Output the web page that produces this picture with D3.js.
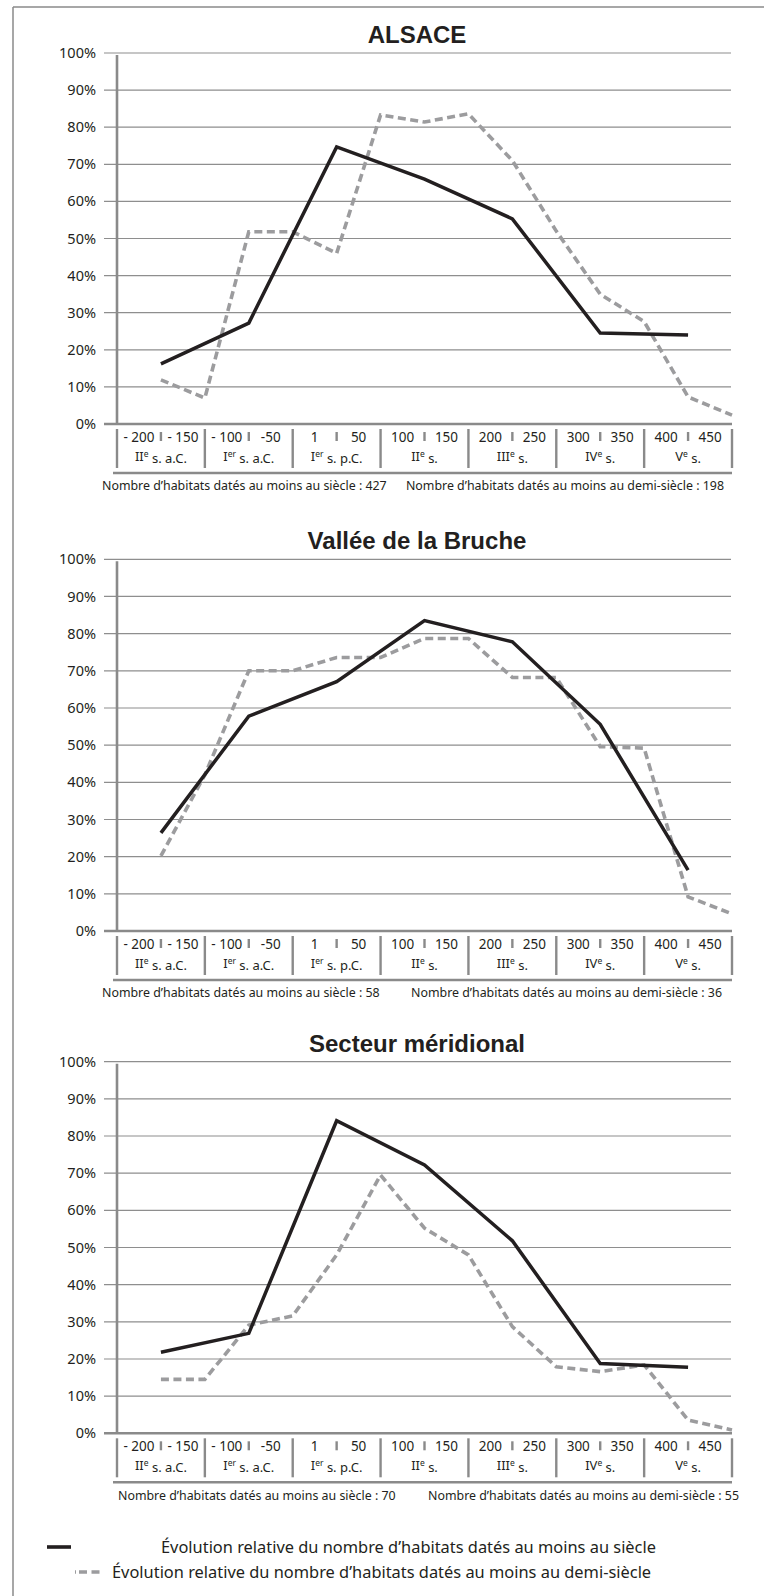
<!DOCTYPE html>
<html>
<head>
<meta charset="utf-8">
<script src="https://cdn.jsdelivr.net/npm/d3@7"></script>
<style>
  html, body { margin: 0; padding: 0; background: #fff; }
  svg { display: block; }
  text { font-family: "Noto Sans", "Open Sans", sans-serif; fill: #231f20; }
</style>
</head>
<body>
<svg id="chart" width="764" height="1596"></svg>
<script>
// ---------- data ----------
const titles = ["ALSACE", "Vallée de la Bruche", "Secteur méridional"];
const yTicks = [0, 10, 20, 30, 40, 50, 60, 70, 80, 90, 100];
const halfLabels = ["- 200", "- 150", "- 100", "-50", "1", "50", "100", "150", "200", "250", "300", "350", "400", "450"];
const centuryNumerals = ["II", "I", "I", "II", "III", "IV", "V"];
const centurySup = ["e", "er", "er", "e", "e", "e", "e"];
const centurySuffix = [" s. a.C.", " s. a.C.", " s. p.C.", " s.", " s.", " s.", " s."];

const alsaceCentury = [16.2, 27.2, 74.7, 66.0, 55.3, 24.5, 24.0];
const alsaceHalf = [11.9, 7.0, 51.8, 51.8, 46.0, 83.3, 81.4, 83.6, 71.0, 52.0, 35.0, 27.6, 7.3, 2.4];
const brucheCentury = [26.4, 57.8, 67.1, 83.5, 77.8, 55.6, 16.4];
const brucheHalf = [20.2, 42.0, 70.0, 70.0, 73.6, 73.6, 78.7, 78.7, 68.2, 68.2, 49.6, 49.2, 9.2, 4.6];
const sudCentury = [21.8, 26.9, 84.1, 72.2, 51.8, 18.8, 17.8];
const sudHalf = [14.5, 14.5, 29.1, 31.6, 48.0, 69.5, 55.2, 48.0, 28.7, 17.9, 16.6, 18.4, 3.6, 0.9];

const countsCentury = [427, 58, 70];
const countsHalf = [198, 36, 55];

const legendLabels = [
  "Évolution relative du nombre d’habitats datés au moins au siècle",
  "Évolution relative du nombre d’habitats datés au moins au demi-siècle"
];

// ---------- layout ----------
const charts = [
  { title: titles[0], century: alsaceCentury, half: alsaceHalf, top: 53, bottom: 424, noteL: 102, noteR: 724 },
  { title: titles[1], century: brucheCentury, half: brucheHalf, top: 559.3, bottom: 931, noteL: 102, noteR: 722 },
  { title: titles[2], century: sudCentury, half: sudHalf, top: 1061.7, bottom: 1433.3, noteL: 118, noteR: 739 }
];

const svg = d3.select("#chart");
const GRID = "#8e8e8e", AXIS = "#8a8a8a", DASH = "#9c9c9e", INK = "#231f20";

// outer frame (left and top edges)
svg.append("line").attr("x1", 13).attr("x2", 13).attr("y1", 7).attr("y2", 1596)
  .attr("stroke", AXIS).attr("stroke-width", 1.5);
svg.append("line").attr("x1", 13).attr("x2", 764).attr("y1", 7).attr("y2", 7)
  .attr("stroke", AXIS).attr("stroke-width", 1.5);

const x = d3.scaleLinear().domain([0, 7]).range([117, 732]);

charts.forEach((c, ci) => {
  const g = svg.append("g");
  const y = d3.scaleLinear().domain([0, 100]).range([c.bottom, c.top]);
  const B = c.bottom;

  // title
  g.append("text").attr("x", 417).attr("y", c.top - 10)
    .attr("text-anchor", "middle")
    .style("font-family", "'Liberation Sans', Arial, sans-serif")
    .style("font-weight", "bold").style("font-size", "24px")
    .text(c.title);

  // grid lines
  g.selectAll(".grid").data(yTicks.filter(d => d > 0)).join("line")
    .attr("x1", 104).attr("x2", 731)
    .attr("y1", d => y(d)).attr("y2", d => y(d))
    .attr("stroke", GRID).attr("stroke-width", 1.2);

  // y labels
  g.selectAll(".ylab").data(yTicks).join("text")
    .attr("x", 96).attr("y", d => y(d)).attr("dy", "0.35em")
    .attr("text-anchor", "end").style("font-size", "14.5px")
    .text(d => d + "%");

  // y axis
  g.append("line").attr("x1", 117).attr("x2", 117).attr("y1", y(100) + 2).attr("y2", B)
    .attr("stroke", AXIS).attr("stroke-width", 2.6);
  // x axis (0% line)
  g.append("line").attr("x1", 104).attr("x2", 732).attr("y1", B).attr("y2", B)
    .attr("stroke", AXIS).attr("stroke-width", 2.6);

  // category separators
  g.selectAll(".sep").data(d3.range(8)).join("line")
    .attr("x1", d => x(d)).attr("x2", d => x(d))
    .attr("y1", B + 5).attr("y2", B + 44)
    .attr("stroke", AXIS).attr("stroke-width", 2.4);
  g.selectAll(".small").data(d3.range(7)).join("line")
    .attr("x1", d => x(d + 0.5)).attr("x2", d => x(d + 0.5))
    .attr("y1", B + 8).attr("y2", B + 17)
    .attr("stroke", AXIS).attr("stroke-width", 2.4);

  // half-century labels
  g.selectAll(".hlab").data(halfLabels).join("text")
    .attr("x", (d, i) => x(i * 0.5 + 0.25)).attr("y", B + 13).attr("dy", "0.35em")
    .attr("text-anchor", "middle").style("font-size", "13.5px")
    .text(d => d);

  // century labels
  const cl = g.selectAll(".clab").data(centuryNumerals).join("text")
    .attr("x", (d, i) => x(i + 0.5)).attr("y", B + 32).attr("dy", "0.35em")
    .attr("text-anchor", "middle").style("font-size", "13px");
  cl.append("tspan").text(d => d);
  cl.append("tspan").attr("dy", "-0.45em").style("font-size", "8.5px").text((d, i) => centurySup[i]);
  cl.append("tspan").attr("dy", "0.45em").text((d, i) => centurySuffix[i]);

  // bottom rule
  g.append("line").attr("x1", 113).attr("x2", 732).attr("y1", B + 49).attr("y2", B + 49)
    .attr("stroke", AXIS).attr("stroke-width", 2.4);

  // footnotes
  g.append("text").attr("x", c.noteL).attr("y", B + 62).attr("dy", "0.35em")
    .style("font-size", "12.4px")
    .text("Nombre d’habitats datés au moins au siècle : " + countsCentury[ci]);
  g.append("text").attr("x", c.noteR).attr("y", B + 62).attr("dy", "0.35em")
    .attr("text-anchor", "end").style("font-size", "12.4px")
    .text("Nombre d’habitats datés au moins au demi-siècle : " + countsHalf[ci]);

  // lines
  const line = d3.line().x(d => x(d[0])).y(d => y(d[1]));
  const halfPts = c.half.map((v, k) => [0.5 + 0.5 * k, v]);
  const centPts = c.century.map((v, i) => [i + 0.5, v]);

  g.append("path").attr("d", line(halfPts))
    .attr("fill", "none").attr("stroke", DASH).attr("stroke-width", 3.6)
    .attr("stroke-dasharray", "8,4.5").attr("stroke-linejoin", "miter");
  g.append("path").attr("d", line(centPts))
    .attr("fill", "none").attr("stroke", INK).attr("stroke-width", 3.5)
    .attr("stroke-linejoin", "miter");
});

// legend
const lg = svg.append("g");
lg.append("line").attr("x1", 47).attr("x2", 71).attr("y1", 1547).attr("y2", 1547)
  .attr("stroke", INK).attr("stroke-width", 3.6);
lg.append("text").attr("x", 161).attr("y", 1547).attr("dy", "0.35em")
  .style("font-size", "16.4px").text(legendLabels[0]);
lg.append("line").attr("x1", 79).attr("x2", 102).attr("y1", 1572).attr("y2", 1572)
  .attr("stroke", DASH).attr("stroke-width", 3.6).attr("stroke-dasharray", "8,4.5");
lg.append("line").attr("x1", 75).attr("x2", 76).attr("y1", 1572).attr("y2", 1572)
  .attr("stroke", DASH).attr("stroke-width", 3.6);
lg.append("text").attr("x", 112).attr("y", 1572).attr("dy", "0.35em")
  .style("font-size", "16.4px").text(legendLabels[1]);
</script>
</body>
</html>
